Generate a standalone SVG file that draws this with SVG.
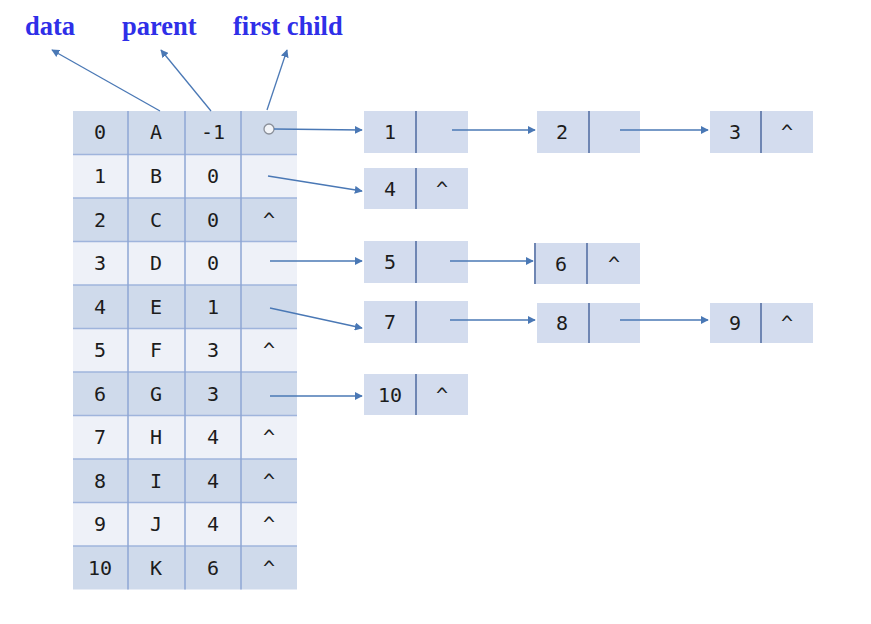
<svg xmlns="http://www.w3.org/2000/svg" width="871" height="624" viewBox="0 0 871 624">
<defs>
<marker id="ah" viewBox="0 0 10 10" refX="9" refY="5" markerWidth="8" markerHeight="8" markerUnits="userSpaceOnUse" orient="auto">
<path d="M0,0 L10,5 L0,10 z" fill="#4a78b5"/>
</marker>
<style>
.lbl{font-family:"Liberation Serif",serif;font-weight:bold;font-size:26.5px;fill:#2f2fe8}
.t{font-family:"DejaVu Sans Mono","Liberation Mono",monospace;font-size:20px;fill:#1c1c1c;text-anchor:middle;dominant-baseline:central}
.dk{fill:#cfdaeb}
.lt{fill:#eef1f8}
.grid{stroke:#8ea6d4;stroke-width:1.5}
.hl{stroke:#9fb4dc;stroke-width:1.5}
.nd{fill:#d3dcee}
.dv{stroke:#6f86b3;stroke-width:2}
.c{stroke:#4a78b5;stroke-width:1.3;fill:none}
</style>
</defs>
<rect width="871" height="624" fill="#fff"/>
<g id="labels">
<text class="lbl" x="25" y="35">data</text>
<text class="lbl" x="122" y="35">parent</text>
<text class="lbl" x="233" y="35">first child</text>
</g>
<g id="table">
<rect class="dk" x="73" y="111" width="224" height="43.5"/>
<rect class="lt" x="73" y="154.5" width="224" height="43.5"/>
<rect class="dk" x="73" y="198" width="224" height="43.5"/>
<rect class="lt" x="73" y="241.5" width="224" height="43.5"/>
<rect class="dk" x="73" y="285" width="224" height="43.5"/>
<rect class="lt" x="73" y="328.5" width="224" height="43.5"/>
<rect class="dk" x="73" y="372" width="224" height="43.5"/>
<rect class="lt" x="73" y="415.5" width="224" height="43.5"/>
<rect class="dk" x="73" y="459" width="224" height="43.5"/>
<rect class="lt" x="73" y="502.5" width="224" height="43.5"/>
<rect class="dk" x="73" y="546" width="224" height="43.5"/>
<g class="hl">
<line x1="73" y1="154.5" x2="297" y2="154.5"/><line x1="73" y1="198" x2="297" y2="198"/>
<line x1="73" y1="241.5" x2="297" y2="241.5"/><line x1="73" y1="285" x2="297" y2="285"/>
<line x1="73" y1="328.5" x2="297" y2="328.5"/><line x1="73" y1="372" x2="297" y2="372"/>
<line x1="73" y1="415.5" x2="297" y2="415.5"/><line x1="73" y1="459" x2="297" y2="459"/>
<line x1="73" y1="502.5" x2="297" y2="502.5"/><line x1="73" y1="546" x2="297" y2="546"/>
</g>
<g class="grid">
<line x1="128" y1="111" x2="128" y2="589.5"/><line x1="185" y1="111" x2="185" y2="589.5"/><line x1="241" y1="111" x2="241" y2="589.5"/>
</g>
</g>
<g id="rows">
<g id="row0"><text class="t" x="100" y="132">0</text><text class="t" x="156" y="132">A</text><text class="t" x="213" y="132">-1</text><circle cx="269" cy="129" r="5" fill="#f2f4f8" stroke="#8a8f99" stroke-width="1.3"/></g>
<g id="row1"><text class="t" x="100" y="176">1</text><text class="t" x="156" y="176">B</text><text class="t" x="213" y="176">0</text></g>
<g id="row2"><text class="t" x="100" y="220">2</text><text class="t" x="156" y="220">C</text><text class="t" x="213" y="220">0</text><text class="t" x="269" y="220">^</text></g>
<g id="row3"><text class="t" x="100" y="263">3</text><text class="t" x="156" y="263">D</text><text class="t" x="213" y="263">0</text></g>
<g id="row4"><text class="t" x="100" y="307">4</text><text class="t" x="156" y="307">E</text><text class="t" x="213" y="307">1</text></g>
<g id="row5"><text class="t" x="100" y="350">5</text><text class="t" x="156" y="350">F</text><text class="t" x="213" y="350">3</text><text class="t" x="269" y="350">^</text></g>
<g id="row6"><text class="t" x="100" y="394">6</text><text class="t" x="156" y="394">G</text><text class="t" x="213" y="394">3</text></g>
<g id="row7"><text class="t" x="100" y="437">7</text><text class="t" x="156" y="437">H</text><text class="t" x="213" y="437">4</text><text class="t" x="269" y="437">^</text></g>
<g id="row8"><text class="t" x="100" y="481">8</text><text class="t" x="156" y="481">I</text><text class="t" x="213" y="481">4</text><text class="t" x="269" y="481">^</text></g>
<g id="row9"><text class="t" x="100" y="524">9</text><text class="t" x="156" y="524">J</text><text class="t" x="213" y="524">4</text><text class="t" x="269" y="524">^</text></g>
<g id="row10"><text class="t" x="100" y="568">10</text><text class="t" x="156" y="568">K</text><text class="t" x="213" y="568">6</text><text class="t" x="269" y="568">^</text></g>
</g>
<g id="n1"><rect class="nd" x="364" y="111" width="104" height="42"/><line class="dv" x1="416" y1="111" x2="416" y2="153"/><text class="t" x="390" y="132">1</text></g>
<g id="n2"><rect class="nd" x="537" y="111" width="103" height="42"/><line class="dv" x1="589" y1="111" x2="589" y2="153"/><text class="t" x="562" y="132">2</text></g>
<g id="n3"><rect class="nd" x="710" y="111" width="103" height="42"/><line class="dv" x1="761" y1="111" x2="761" y2="153"/><text class="t" x="735" y="132">3</text><text class="t" x="787" y="132">^</text></g>
<g id="n4"><rect class="nd" x="364" y="168" width="104" height="41"/><line class="dv" x1="416" y1="168" x2="416" y2="209"/><text class="t" x="390" y="189">4</text><text class="t" x="442" y="189">^</text></g>
<g id="n5"><rect class="nd" x="364" y="241" width="104" height="42"/><line class="dv" x1="416" y1="241" x2="416" y2="283"/><text class="t" x="390" y="262">5</text></g>
<g id="n6"><rect class="nd" x="535" y="243" width="105" height="41"/><line class="dv" x1="535" y1="243" x2="535" y2="284"/><line class="dv" x1="587" y1="243" x2="587" y2="284"/><text class="t" x="561" y="264">6</text><text class="t" x="614" y="264">^</text></g>
<g id="n7"><rect class="nd" x="364" y="301" width="104" height="42"/><line class="dv" x1="416" y1="301" x2="416" y2="343"/><text class="t" x="390" y="322">7</text></g>
<g id="n8"><rect class="nd" x="537" y="303" width="103" height="40"/><line class="dv" x1="589" y1="303" x2="589" y2="343"/><text class="t" x="562" y="323">8</text></g>
<g id="n9"><rect class="nd" x="710" y="303" width="103" height="40"/><line class="dv" x1="761" y1="303" x2="761" y2="343"/><text class="t" x="735" y="323">9</text><text class="t" x="787" y="323">^</text></g>
<g id="n10"><rect class="nd" x="364" y="374" width="104" height="41"/><line class="dv" x1="416" y1="374" x2="416" y2="415"/><text class="t" x="390" y="395">10</text><text class="t" x="442" y="395">^</text></g>
<g id="connectors">
<line class="c" x1="160" y1="111" x2="52" y2="50" marker-end="url(#ah)"/>
<line class="c" x1="211" y1="111" x2="161" y2="50" marker-end="url(#ah)"/>
<line class="c" x1="267" y1="110" x2="287" y2="50" marker-end="url(#ah)"/>
<line class="c" x1="274" y1="129" x2="362" y2="130" marker-end="url(#ah)"/>
<line class="c" x1="452" y1="130" x2="535" y2="130" marker-end="url(#ah)"/>
<line class="c" x1="620" y1="130" x2="708" y2="130" marker-end="url(#ah)"/>
<line class="c" x1="268" y1="176" x2="362" y2="191" marker-end="url(#ah)"/>
<line class="c" x1="270" y1="261" x2="362" y2="261" marker-end="url(#ah)"/>
<line class="c" x1="450" y1="261" x2="533" y2="261" marker-end="url(#ah)"/>
<line class="c" x1="270" y1="308" x2="362" y2="328" marker-end="url(#ah)"/>
<line class="c" x1="450" y1="320" x2="535" y2="320" marker-end="url(#ah)"/>
<line class="c" x1="620" y1="320" x2="708" y2="320" marker-end="url(#ah)"/>
<line class="c" x1="270" y1="396" x2="362" y2="396" marker-end="url(#ah)"/>
</g>
</svg>
